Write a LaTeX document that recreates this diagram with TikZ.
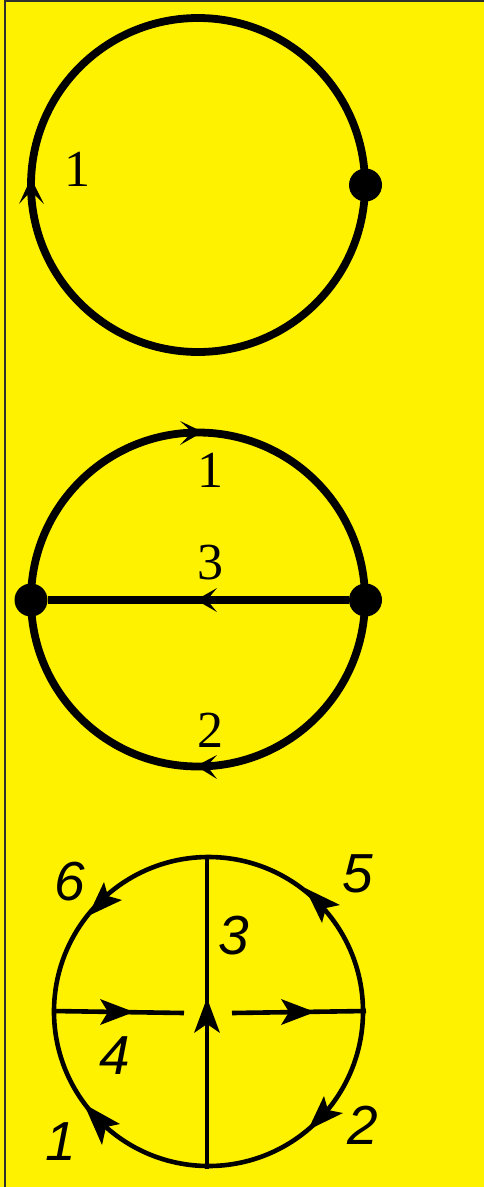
\documentclass[tikz,border=0pt]{standalone}
\usepackage{fontspec}
\setmainfont{Liberation Serif}
\newfontfamily\labelsans{Liberation Sans}
\definecolor{bgyellow}{HTML}{FFF200}
\definecolor{framegray}{HTML}{303030}
\tikzset{
  heavy/.style={line width=7.8pt,black},
  light/.style={line width=4.6pt,black},
  dotnode/.style={circle,fill=black,draw=none,minimum size=33pt,inner sep=0pt},
  serifnum/.style={anchor=base,inner sep=0pt,font=\fontsize{52}{52}\selectfont},
  sansnum/.style={anchor=base,inner sep=0pt,font=\labelsans\itshape\fontsize{55}{55}\selectfont},
  tip/.style={fill=black,draw=none}
}
\begin{document}
\begin{tikzpicture}[x=1pt,y=-1pt]
\useasboundingbox (0,0) rectangle (484,1187);
\fill[bgyellow] (0,0) rectangle (484,1187);
\draw[framegray,line width=2pt] (5,1187) -- (5,1) -- (484,1);

% top
\draw[heavy] (198,185) circle[radius=167];
\node[dotnode] (a) at (365.5,185) {};
\fill[tip] (31,178) -- (44,204) -- (31,191) -- (19,204) -- cycle;
\node[serifnum] (la) at (77,186) {1};

% middle
\draw[heavy] (198,599.5) circle[radius=167];
\node[dotnode] (bl) at (31,600) {};
\node[dotnode] (br) at (365.5,600) {};
\draw[line width=7.5pt] (bl) -- (br);
\fill[tip] (203,432) -- (180,421) -- (192,432) -- (180,445) -- cycle;
\fill[tip] (196,600) -- (217,588) -- (207,600) -- (217,612) -- cycle;
\fill[tip] (196,766) -- (217,755) -- (207,766) -- (217,779) -- cycle;
\node[serifnum] (l1) at (210.5,487) {1};
\node[serifnum] (l3) at (210.5,579) {3};
\node[serifnum] (l2) at (210.5,747) {2};

% bottom
\draw[light] (208.5,1011.5) circle[radius=154.5];
\coordinate (vt) at (207,857);
\coordinate (vb) at (207,1169);
\coordinate (hl) at (53,1011);
\coordinate (hli) at (184,1013);
\coordinate (hri) at (232,1013);
\coordinate (hr) at (366,1011);
\draw[light] (vb) -- (vt);
\draw[light] (hl) -- (hli);
\draw[light] (hri) -- (hr);
\fill[tip] (207,998) -- (220,1033) -- (207,1024) -- (194,1033) -- cycle;
\fill[tip] (134,1012) -- (100,999) -- (108,1012) -- (100,1025) -- cycle;
\fill[tip] (315,1012) -- (281,999) -- (289,1012) -- (281,1025) -- cycle;
\fill[tip] (88,916) -- (104,882) -- (108,896) -- (122,900) -- cycle;
\fill[tip] (305,888) -- (340,905) -- (326,908) -- (322,923) -- cycle;
\fill[tip] (308,1130) -- (324,1096) -- (328,1110) -- (343,1113) -- cycle;
\fill[tip] (84,1104) -- (120,1124) -- (106,1127) -- (102,1145) -- cycle;
\node[sansnum] (s6) at (70,900) {6};
\node[sansnum] (s5) at (358,892) {5};
\node[sansnum] (s3) at (234,954) {3};
\node[sansnum] (s4) at (115,1074) {4};
\node[sansnum] (s1) at (61,1160) {1};
\node[sansnum] (s2) at (363,1144) {2};
\end{tikzpicture}
\end{document}
